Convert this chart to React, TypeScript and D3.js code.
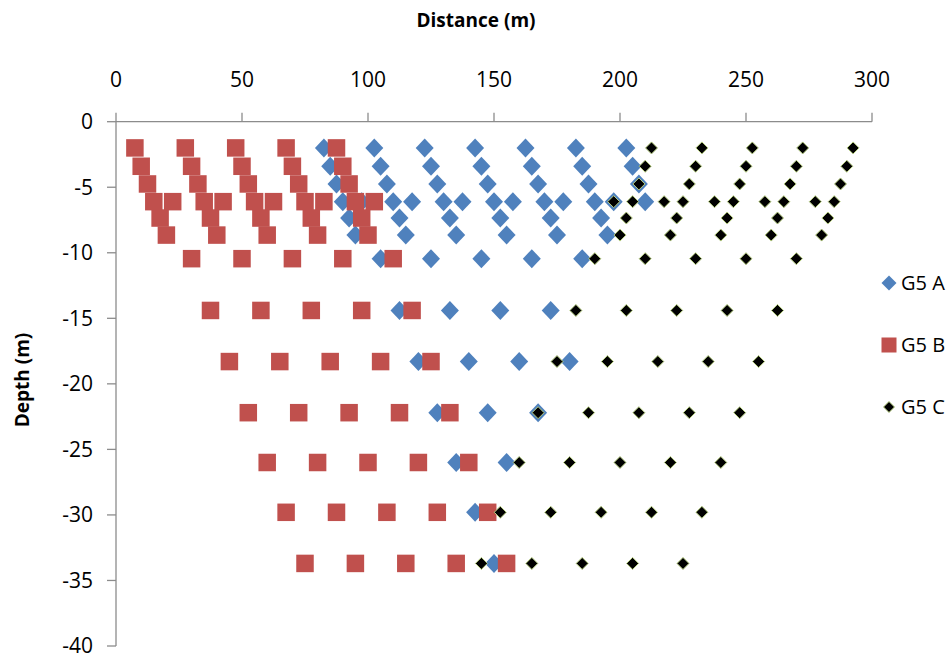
import React from "react";
import * as d3 from "d3";

// Depth of each measurement row (m)
const depths = [-2, -3.4, -4.75, -6.1, -7.35, -8.65, -10.45, -14.4, -18.3, -22.2, -26, -29.8, -33.7];

// Distances (m) of the G5 A points, one list per depth row
const g5aDistances = [
  [82.5, 102.5, 122.5, 142.5, 162.5, 182.5, 202.5],
  [85, 105, 125, 145, 165, 185, 205],
  [87.5, 107.5, 127.5, 147.5, 167.5, 187.5, 207.5],
  [90, 97.5, 110, 117.5, 130, 137.5, 150, 157.5, 170, 177.5, 190, 197.5, 210],
  [92.5, 112.5, 132.5, 152.5, 172.5, 192.5],
  [95, 115, 135, 155, 175, 195],
  [105, 125, 145, 165, 185],
  [112.5, 132.5, 152.5, 172.5],
  [120, 140, 160, 180],
  [127.5, 147.5, 167.5],
  [135, 155],
  [142.5],
  [150],
];

// Distances (m) of the G5 B points
const g5bDistances = [
  [7.5, 27.5, 47.5, 67.5, 87.5],
  [10, 30, 50, 70, 90],
  [12.5, 32.5, 52.5, 72.5, 92.5],
  [15, 22.5, 35, 42.5, 55, 62.5, 75, 82.5, 95, 102.5],
  [17.5, 37.5, 57.5, 77.5, 97.5],
  [20, 40, 60, 80, 100],
  [30, 50, 70, 90, 110],
  [37.5, 57.5, 77.5, 97.5, 117.5],
  [45, 65, 85, 105, 125],
  [52.5, 72.5, 92.5, 112.5, 132.5],
  [60, 80, 100, 120, 140],
  [67.5, 87.5, 107.5, 127.5, 147.5],
  [75, 95, 115, 135, 155],
];

// Distances (m) of the G5 C points
const g5cDistances = [
  [212.5, 232.5, 252.5, 272.5, 292.5],
  [210, 230, 250, 270, 290],
  [207.5, 227.5, 247.5, 267.5, 287.5],
  [197.5, 205, 217.5, 225, 237.5, 245, 257.5, 265, 277.5, 285],
  [202.5, 222.5, 242.5, 262.5, 282.5],
  [200, 220, 240, 260, 280],
  [190, 210, 230, 250, 270],
  [182.5, 202.5, 222.5, 242.5, 262.5],
  [175, 195, 215, 235, 255],
  [167.5, 187.5, 207.5, 227.5, 247.5],
  [160, 180, 200, 220, 240],
  [152.5, 172.5, 192.5, 212.5, 232.5],
  [145, 165, 185, 205, 225],
];

const seriesNames = ["G5 A", "G5 B", "G5 C"];
const xTicks = [0, 50, 100, 150, 200, 250, 300];
const yTicks = [0, -5, -10, -15, -20, -25, -30, -35, -40];

const W = 951;
const H = 660;
const FONT = "'Open Sans', 'Noto Sans', sans-serif";
const AXIS = "#8c8c8c";

const x = d3.scaleLinear().domain([0, 300]).range([116, 872]);
const y = d3.scaleLinear().domain([0, -40]).range([121.7, 646]);

type Pt = { d: number; z: number };
const toPoints = (rows: number[][]): Pt[] =>
  rows.flatMap((row, i) => row.map((d) => ({ d, z: depths[i] })));

const diamond = (cx: number, cy: number, hw: number, hh: number) =>
  `M${cx},${cy - hh}L${cx + hw},${cy}L${cx},${cy + hh}L${cx - hw},${cy}Z`;

function Marker({ kind, cx, cy, legend }: { kind: number; cx: number; cy: number; legend?: boolean }) {
  if (kind === 0) {
    const s = legend ? 7.5 : 9;
    return <path d={diamond(cx, cy, s, s + (legend ? 0 : 0.5))} fill="#4f81bd" />;
  }
  if (kind === 1) {
    const s = legend ? 15 : 17.5;
    return <rect x={cx - s / 2} y={cy - s / 2} width={s} height={s} fill="#c0504d" />;
  }
  const s = legend ? 5.5 : 6;
  return <path d={diamond(cx, cy, s, s)} fill="#000" stroke="#b8cf82" strokeWidth={1} />;
}

export default function App() {
  const series = [g5aDistances, g5bDistances, g5cDistances].map(toPoints);
  const legendY = [283, 345, 407];

  return (
    <svg
      width={W}
      height={H}
      style={{ position: "absolute", left: 0, top: 0, background: "#fff" }}
      fontFamily={FONT}
    >
      <rect width={W} height={H} fill="#fff" />

      {/* axis titles */}
      <text x={476} y={27} textAnchor="middle" fontSize={19} fontWeight="bold" fill="#000">
        Distance (m)
      </text>
      <text
        transform={`translate(29,380) rotate(-90)`}
        textAnchor="middle"
        fontSize={19}
        fontWeight="bold"
        fill="#000"
      >
        Depth (m)
      </text>

      {/* top distance axis */}
      <line x1={x(0)} x2={x(300)} y1={y(0)} y2={y(0)} stroke={AXIS} strokeWidth={1.3} />
      {xTicks.map((t) => (
        <g key={`xt${t}`}>
          <line x1={x(t)} x2={x(t)} y1={y(0)} y2={y(0) - 9} stroke={AXIS} strokeWidth={1.3} />
          <text x={x(t)} y={87} textAnchor="middle" fontSize={21} fill="#000">
            {t}
          </text>
        </g>
      ))}

      {/* left depth axis */}
      <line x1={x(0)} x2={x(0)} y1={y(0)} y2={y(-40)} stroke={AXIS} strokeWidth={1.3} />
      {yTicks.map((t) => (
        <g key={`yt${t}`}>
          <line x1={x(0) - 9} x2={x(0)} y1={y(t)} y2={y(t)} stroke={AXIS} strokeWidth={1.3} />
          <text x={93} y={y(t)} dy="0.35em" textAnchor="end" fontSize={21} fill="#000">
            {t}
          </text>
        </g>
      ))}

      {/* data points */}
      {series.map((pts, k) => (
        <g key={`s${k}`}>
          {pts.map((p, i) => (
            <Marker key={i} kind={k} cx={x(p.d)} cy={y(p.z)} />
          ))}
        </g>
      ))}

      {/* legend */}
      {seriesNames.map((name, k) => (
        <g key={name}>
          <Marker kind={k} cx={889} cy={legendY[k]} legend />
          <text x={901} y={legendY[k]} dy="0.35em" fontSize={20} fill="#000">
            {name}
          </text>
        </g>
      ))}
    </svg>
  );
}
